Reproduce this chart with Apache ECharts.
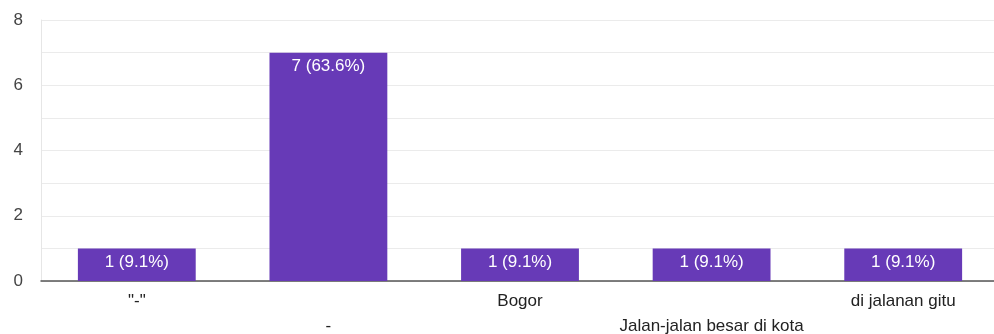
<!DOCTYPE html>
<html>
<head>
<meta charset="utf-8">
<script src="https://cdn.jsdelivr.net/npm/echarts@6/dist/echarts.min.js"></script>
<style>
  html, body { margin: 0; padding: 0; background: #fff; }
  #chart { width: 994px; height: 334px; }
</style>
</head>
<body>
<div id="chart"></div>
<script>
  var categories = ['"-"', '-', 'Bogor', 'Jalan-jalan besar di kota', 'di jalanan gitu'];
  var counts = [1, 7, 1, 1, 1];
  var percentLabels = ['9.1%', '63.6%', '9.1%', '9.1%', '9.1%'];

  var chart = echarts.init(document.getElementById('chart'));

  var option = {
    animation: false,
    textStyle: { fontFamily: '"Liberation Sans", Arial, sans-serif' },
    grid: { left: 41, width: 958, top: 20, bottom: 53, outerBoundsMode: 'none' },
    xAxis: {
      type: 'category',
      data: categories,
      axisLine: { lineStyle: { color: '#555', width: 1.5 } },
      axisTick: { show: false },
      axisLabel: {
        interval: 0,
        color: '#222',
        fontSize: 17,
        lineHeight: 25,
        margin: 8,
        formatter: function (v, i) {
          return i % 2 === 1 ? '\n' + v : v;
        }
      }
    },
    yAxis: {
      type: 'value',
      min: 0,
      max: 8,
      interval: 1,
      axisLine: { show: true, lineStyle: { color: '#e6e6e6' } },
      axisTick: { show: false },
      axisLabel: {
        color: '#444',
        fontSize: 17,
        margin: 18,
        formatter: function (v) { return v % 2 === 0 ? String(v) : ''; }
      },
      splitLine: { lineStyle: { color: '#ebebeb', width: 1 } }
    },
    series: [{
      type: 'bar',
      data: counts,
      barWidth: '61.5%',
      itemStyle: { color: '#673ab7' },
      label: {
        show: true,
        position: 'insideTop',
        distance: 5,
        color: '#fff',
        fontSize: 17,
        formatter: function (p) {
          return p.value + ' (' + percentLabels[p.dataIndex] + ')';
        }
      }
    }]
  };

  chart.setOption(option);
</script>
</body>
</html>
